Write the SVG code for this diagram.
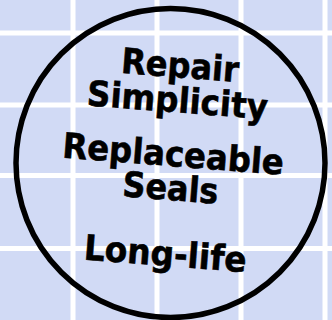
<svg xmlns="http://www.w3.org/2000/svg" width="332" height="320" viewBox="0 0 332 320">
  <style>
    .grid { stroke: #ffffff; stroke-width: 5; }
    .lbl { font-family: "DejaVu Sans", Verdana, sans-serif; font-weight: bold; font-size: 35px; fill: #000000; stroke: #000000; stroke-width: 0.6; text-anchor: middle; }
  </style>
  <rect x="0" y="0" width="332" height="320" fill="#d1daf5"/>
  <g id="grid">
    <line class="grid" x1="73" y1="0" x2="73" y2="320"/>
    <line class="grid" x1="157" y1="0" x2="157" y2="320"/>
    <line class="grid" x1="241" y1="0" x2="241" y2="320"/>
    <line class="grid" x1="325" y1="0" x2="325" y2="320"/>
    <line class="grid" x1="0" y1="33" x2="332" y2="33"/>
    <line class="grid" x1="0" y1="105" x2="332" y2="105"/>
    <line class="grid" x1="0" y1="175.5" x2="332" y2="175.5"/>
    <line class="grid" x1="0" y1="248.5" x2="332" y2="248.5"/>
  </g>
  <g id="circle">
    <circle cx="170.5" cy="163" r="154.5" fill="none" stroke="#000000" stroke-width="5.5"/>
  </g>
  <g id="labels" transform="rotate(4.5 171 166)">
    <text class="lbl" x="172.3" y="77" textLength="118" lengthAdjust="spacingAndGlyphs">Repair</text>
    <text class="lbl" x="172.3" y="112" textLength="181" lengthAdjust="spacingAndGlyphs">Simplicity</text>
    <text class="lbl" x="172.3" y="166" textLength="222" lengthAdjust="spacingAndGlyphs">Replaceable</text>
    <text class="lbl" x="172.3" y="200" textLength="96" lengthAdjust="spacingAndGlyphs">Seals</text>
    <text class="lbl" x="172.3" y="266" textLength="163" lengthAdjust="spacingAndGlyphs">Long-life</text>
  </g>
</svg>
